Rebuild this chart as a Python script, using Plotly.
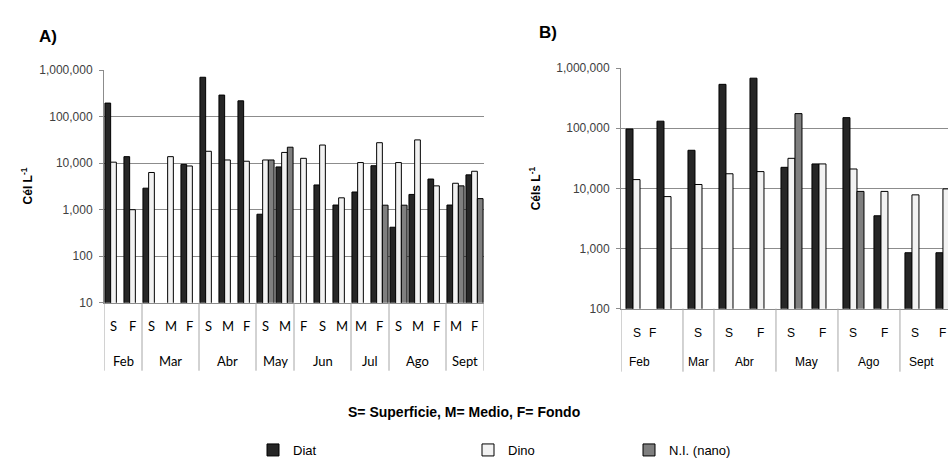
import plotly.graph_objects as go

# ---------------- data: panel A ----------------
a_month = ["Feb", "Feb", "Mar", "Mar", "Mar", "Abr", "Abr", "Abr", "May", "May",
           "Jun", "Jun", "Jun", "Jul", "Jul", "Ago", "Ago", "Ago", "Sept", "Sept"]
a_depth = ["S", "F", "S", "M", "F", "S", "M", "F", "S", "M",
           "F", "S", "M", "M", "F", "S", "M", "F", "M", "F"]
a_diat = [195000, 13800, 2900, None, 9400, 700000, 290000, 218000, 800, 8300,
          None, 3400, 1260, 2400, 8800, 420, 2130, 4560, 1260, 5600]
a_dino = [10500, 1000, 6300, 13800, 8700, 18000, 11700, 11000, 11700, 17000,
          12700, 24500, 1800, 10300, 27500, 10300, 31600, 3250, 3700, 6700]
a_ni = [None, None, None, None, None, None, None, None, 11700, 22000,
        None, None, None, None, 1250, 1250, None, None, 3250, 1730]

# ---------------- data: panel B ----------------
b_month = ["Feb", "Feb", "Mar", "Abr", "Abr", "May", "May", "Ago", "Ago", "Sept", "Sept"]
b_depth = ["S", "F", "S", "S", "F", "S", "F", "S", "F", "S", "F"]
b_diat = [97000, 131000, 43000, 537000, 680000, 22400, 25500, 150000, 3500, 850, 850]
b_dino = [14000, 7300, 11600, 17500, 19000, 31600, 25500, 21000, 8900, 7800, 9800]
b_ni = [None, None, None, None, None, 175000, None, 8900, None, None, None]

series_names = ["Diat", "Dino", "N.I. (nano)"]
series_colors = ["#262626", "#f2f2f2", "#7f7f7f"]

tick_vals_a = [10, 100, 1000, 10000, 100000, 1000000]
tick_vals_b = [100, 1000, 10000, 100000, 1000000]

W, H = 948, 465


def py(p):
    """pixel y (from top) -> paper y"""
    return (H - p) / H


fig = go.Figure()

xa = list(range(len(a_month)))
xb = list(range(len(b_month)))

wa = 0.3
offs_a = [-0.45, -0.15, 0.15]
wb = 0.226
offs_b = [-0.339, -0.113, 0.113]

legends = ["legend", "legend2", "legend3"]
for i, vals in enumerate([a_diat, a_dino, a_ni]):
    fig.add_trace(go.Bar(
        x=xa, y=vals, name=series_names[i], xaxis="x", yaxis="y",
        width=wa, offset=offs_a[i],
        marker=dict(color=series_colors[i], line=dict(color="#000000", width=1)),
        legend=legends[i], showlegend=True,
    ))
for i, vals in enumerate([b_diat, b_dino, b_ni]):
    fig.add_trace(go.Bar(
        x=xb, y=vals, name=series_names[i], xaxis="x2", yaxis="y2",
        width=wb, offset=offs_b[i],
        marker=dict(color=series_colors[i], line=dict(color="#000000", width=1)),
        showlegend=False,
    ))

grid = "#8c8c8c"
tickfont = dict(family="Liberation Sans, Arial, sans-serif", size=12, color="#404040")

fig.update_layout(
    width=W, height=H, autosize=False,
    margin=dict(l=0, r=0, t=0, b=0),
    paper_bgcolor="white", plot_bgcolor="white",
    barmode="group",
    xaxis=dict(domain=[104 / W, 484 / W], range=[-0.5, len(a_month) - 0.5],
               showticklabels=False, ticks="", showgrid=False, zeroline=False,
               showline=True, linecolor=grid, linewidth=1, anchor="y"),
    yaxis=dict(domain=[py(305), py(65)], type="log", range=[1, 6],
               tickvals=tick_vals_a, ticktext=[f"{v:,}" for v in tick_vals_a],
               tickfont=tickfont, showgrid=True, gridcolor=grid, gridwidth=1,
               showline=True, linecolor=grid, linewidth=1, ticks="outside",
               ticklen=4, tickcolor=grid, ticklabelstandoff=4, anchor="x",
               zeroline=False),
    xaxis2=dict(domain=[621 / W, 1.0], range=[-0.5, 10.05],
                showticklabels=False, ticks="", showgrid=False, zeroline=False,
                showline=True, linecolor=grid, linewidth=1, anchor="y2"),
    yaxis2=dict(domain=[py(311), py(63)], type="log", range=[2, 6],
                tickvals=tick_vals_b, ticktext=[f"{v:,}" for v in tick_vals_b],
                tickfont=tickfont, showgrid=True, gridcolor=grid, gridwidth=1,
                showline=True, linecolor=grid, linewidth=1, ticks="outside",
                ticklen=4, tickcolor=grid, ticklabelstandoff=4, anchor="x2",
                zeroline=False),
)

legend_font = dict(family="Liberation Sans, Arial, sans-serif", size=13, color="#000000")
leg_x = [253, 468, 629]
for name, lx in zip(legends, leg_x):
    fig.layout[name] = dict(x=lx / W, y=py(457), xanchor="left", yanchor="middle",
                            orientation="h", font=legend_font, bgcolor="rgba(0,0,0,0)",
                            itemwidth=30, tracegroupgap=0)

annotations = []
shapes = []
cat_font_a = dict(family="Lato, Open Sans, sans-serif", size=13, color="#000000")
cat_font_b = dict(family="Liberation Sans, Arial, sans-serif", size=12, color="#000000")


def add_groups(months, depths, xref, y_axis_px, y_end_px, y_row1, y_row2, font,
               month_pos=None, depth_pos=None):
    # depth labels
    for i, d in enumerate(depths):
        xi = depth_pos.get(i, i) if depth_pos else i
        annotations.append(dict(x=xi, y=py(y_row1), xref=xref, yref="paper", text=d,
                                showarrow=False, font=font, xanchor="center", yanchor="middle"))
    # group boundaries
    bounds = [-0.5]
    groups = []
    start = 0
    for i in range(1, len(months) + 1):
        if i == len(months) or months[i] != months[i - 1]:
            groups.append((months[start], start, i - 1))
            bounds.append(i - 0.5)
            start = i
    for b in bounds:
        shapes.append(dict(type="line", xref=xref, yref="paper", x0=b, x1=b,
                           y0=py(y_axis_px), y1=py(y_end_px),
                           line=dict(color="#a6a6a6", width=1)))
    for gname, s, e in groups:
        xm = (s + e) / 2
        if month_pos and gname in month_pos:
            xm = month_pos[gname]
        annotations.append(dict(x=xm, y=py(y_row2), xref=xref, yref="paper", text=gname,
                                showarrow=False, font=font, xanchor="center", yanchor="middle"))


add_groups(a_month, a_depth, "x", 305, 375, 329, 365, cat_font_a)
add_groups(b_month, b_depth, "x2", 311, 376, 336, 366, cat_font_b,
           month_pos={"Feb": 0.1, "Sept": 9.2}, depth_pos={1: 0.53, 10: 9.86})

title_font = dict(family="Liberation Sans, Arial, sans-serif", size=17, color="#000000")
ytitle_font = dict(family="Liberation Sans, Arial, sans-serif", size=12, color="#000000")
annotations += [
    dict(x=48 / W, y=py(30), xref="paper", yref="paper", text="<b>A)</b>",
         showarrow=False, font=title_font, xanchor="center", yanchor="middle"),
    dict(x=548 / W, y=py(26), xref="paper", yref="paper", text="<b>B)</b>",
         showarrow=False, font=title_font, xanchor="center", yanchor="middle"),
    dict(x=27 / W, y=py(185), xref="paper", yref="paper", text="<b>Cél L<sup>-1</sup></b>",
         showarrow=False, textangle=-90, font=ytitle_font,
         xanchor="center", yanchor="middle"),
    dict(x=535 / W, y=py(187), xref="paper", yref="paper", text="<b>Céls L<sup>-1</sup></b>",
         showarrow=False, textangle=-90, font=ytitle_font,
         xanchor="center", yanchor="middle"),
    dict(x=464 / W, y=py(418), xref="paper", yref="paper",
         text="<b>S= Superficie, M= Medio, F= Fondo</b>", showarrow=False,
         font=dict(family="Liberation Sans, Arial, sans-serif", size=14, color="#000000"),
         xanchor="center", yanchor="middle"),
]

fig.update_layout(annotations=annotations, shapes=shapes)

fig.write_html("out.html")
